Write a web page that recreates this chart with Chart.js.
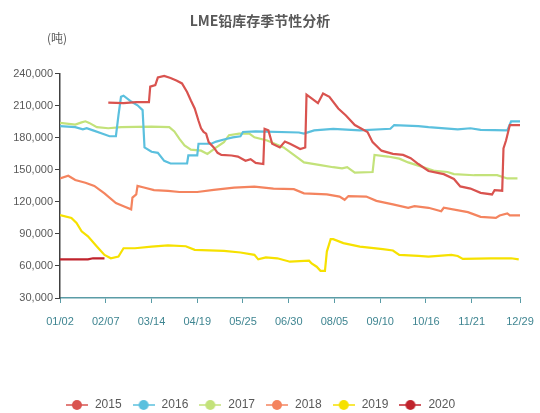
<!DOCTYPE html>
<html lang="zh">

<head>
    <meta charset="UTF-8" />
    <title>LME铅库存季节性分析</title>
    <script src="https://cdn.jsdelivr.net/npm/chart.js"></script>
    <style>
        body {
            margin: 0;
            background: #ffffff;
        }

        #wrap {
            width: 540px;
            height: 413px;
        }
    </style>
</head>

<body>
    <div id="wrap"><canvas id="leadChart"></canvas></div>

    <script>
        // x = days after 01/02, y = tonnes
        const tickLabels = ['01/02', '02/07', '03/14', '04/19', '05/25', '06/30', '08/05', '09/10', '10/16', '11/21', '12/29'];
        const tickDays = [0, 36, 72, 108, 144, 180, 216, 252, 288, 324, 362];

        const days2015 = [38, 50, 60, 70, 71, 75, 77, 82, 87, 92, 96, 100, 103, 106, 109, 111, 113, 115, 117, 121, 124, 127, 135, 140, 146, 150, 154, 160, 161, 164, 167, 173, 177, 181, 186, 189, 193, 194, 198, 203, 207, 212, 219, 225, 232, 242, 246, 253, 262, 270, 276, 282, 290, 302, 310, 315, 323, 331, 340, 342, 348, 349, 351, 354, 362];
        const stock2015 = [213000, 212500, 213500, 213500, 228000, 229500, 236500, 238000, 236000, 233500, 231000, 223000, 215000, 207500, 196000, 189000, 185500, 184000, 176000, 171000, 166000, 164000, 163500, 162500, 158500, 160000, 156500, 155500, 188500, 187000, 174500, 171000, 176500, 174500, 171500, 169500, 171000, 220500, 217000, 212500, 221500, 218500, 207500, 201000, 192000, 185500, 176000, 168000, 165000, 164000, 161000, 155500, 149000, 146000, 141500, 134500, 132500, 128500, 127000, 131000, 130500, 170000, 177500, 192000, 192000];

        const days2016 = [0, 12, 18, 21, 26, 33, 39, 44, 46, 48, 50, 56, 61, 65, 66.5, 72, 77, 82, 87, 100, 101, 108, 109, 119, 123, 129, 136, 142, 144, 154, 188, 192, 200, 215, 236, 260, 263, 282, 290, 313, 323, 331, 352, 355, 362];
        const stock2016 = [191000, 190000, 188000, 189000, 187000, 184000, 181500, 181500, 201000, 218500, 219500, 214000, 210500, 206000, 171000, 167000, 166000, 158500, 156000, 156000, 163500, 163500, 174500, 174500, 176500, 178500, 180500, 181500, 185500, 186000, 185000, 184000, 187000, 188500, 187000, 188500, 192000, 191000, 190000, 188000, 189000, 187500, 187000, 195500, 195500];

        const days2017 = [0, 12, 17, 20, 23, 29, 38, 48, 72, 86, 90, 94, 98, 103, 111, 116, 123, 129, 133, 141, 149, 153, 163, 176, 184, 188, 192, 205, 215, 222, 226, 232, 246, 247.5, 258, 267, 274, 282, 295, 305, 310, 326, 344, 352, 360];
        const stock2017 = [194000, 192500, 194500, 195500, 194000, 190000, 189000, 190000, 190500, 190000, 186000, 179000, 173000, 169000, 168000, 165000, 171000, 176000, 182500, 184000, 184000, 180500, 177500, 171000, 164000, 160500, 157000, 154500, 152500, 151500, 152500, 147500, 148000, 164000, 162500, 160500, 157000, 154000, 149000, 148000, 146000, 145000, 145000, 142000, 142000];

        const days2018 = [0, 6.5, 12, 20, 27, 35, 44, 51, 56, 57, 60, 61, 66, 74, 85, 94, 108, 121, 137, 153, 168, 184, 192, 210, 220, 224, 227, 241, 249, 262, 274, 279, 290, 300, 302, 321, 331, 343, 346, 352, 354, 362];
        const stock2018 = [142000, 144500, 140500, 138000, 135000, 128000, 119000, 115500, 113000, 124000, 127000, 135000, 133500, 131000, 130300, 129300, 129300, 131200, 133400, 134300, 132400, 131900, 128000, 127100, 125000, 122000, 125500, 125000, 121000, 117700, 114500, 116100, 114500, 111300, 114500, 110400, 106000, 105000, 107300, 109200, 107300, 107300];

        const days2019 = [0, 9, 13, 17, 22, 29, 35, 40, 46, 50, 59, 72, 85, 99, 106, 129, 142, 153, 156, 162, 171, 181, 196, 198, 202, 205, 208.5, 210, 213, 215, 223, 236, 254, 262, 267, 282, 290, 308, 313, 317, 339, 355, 361];
        const stock2019 = [107600, 105000, 100300, 92400, 87700, 78200, 70400, 67200, 68800, 76600, 76600, 78200, 79200, 78500, 75100, 74100, 72600, 70400, 66200, 68100, 67200, 64000, 65000, 62400, 59300, 55500, 55500, 73500, 85100, 85100, 81400, 78200, 75700, 74500, 70400, 69400, 68800, 70400, 69400, 66600, 67200, 67200, 66200];

        const days2020 = [0, 22, 26, 35];
        const stock2020 = [66200, 66200, 67200, 67200];

        const years = ['2015', '2016', '2017', '2018', '2019', '2020'];
        const colors = ['#d9534f', '#5bc0de', '#c3e27a', '#f4845f', '#f6e100', '#c0232c'];
        const allDays = [days2015, days2016, days2017, days2018, days2019, days2020];
        const allStock = [stock2015, stock2016, stock2017, stock2018, stock2019, stock2020];

        Chart.defaults.font.family = "'Liberation Sans', 'Noto Sans CJK SC', sans-serif";
        Chart.defaults.color = '#595959';

        function makeMarker(color) {
            const c = document.createElement('canvas');
            c.width = 22;
            c.height = 12;
            const g = c.getContext('2d');
            g.strokeStyle = color;
            g.lineWidth = 1.5;
            g.beginPath();
            g.moveTo(0, 6);
            g.lineTo(22, 6);
            g.stroke();
            g.fillStyle = color;
            g.beginPath();
            g.arc(11, 6, 5, 0, Math.PI * 2);
            g.fill();
            return c;
        }

        const datasets = years.map((y, i) => ({
            label: y,
            data: allDays[i].map((d, j) => ({ x: d, y: allStock[i][j] })),
            borderColor: colors[i],
            backgroundColor: colors[i],
            borderWidth: 2.2,
            pointRadius: 0,
            fill: false,
            tension: 0
        }));

        const unitLabel = {
            id: 'unitLabel',
            afterDraw(chart) {
                const ctx = chart.ctx;
                ctx.save();
                ctx.font = "12px 'Noto Sans CJK SC', sans-serif";
                ctx.fillStyle = '#595959';
                ctx.textAlign = 'left';
                ctx.textBaseline = 'middle';
                ctx.fillText('(吨)', 47, 38);
                ctx.restore();
            }
        };

        new Chart(document.getElementById('leadChart'), {
            type: 'line',
            data: { datasets: datasets },
            plugins: [unitLabel],
            options: {
                responsive: true,
                maintainAspectRatio: false,
                animation: false,
                layout: { padding: { left: 0, right: 20, top: 0, bottom: -8 } },
                plugins: {
                    title: {
                        display: true,
                        text: 'LME铅库存季节性分析',
                        color: '#595959',
                        font: { size: 14, weight: 'bold', family: "'Noto Sans CJK SC', sans-serif" },
                        padding: { top: 12, bottom: 45 }
                    },
                    legend: {
                        position: 'bottom',
                        labels: {
                            usePointStyle: true,
                            pointStyleWidth: 24,
                            padding: 10,
                            color: '#595959',
                            font: { size: 12 },
                            generateLabels: chart => chart.data.datasets.map((ds, i) => ({
                                text: ds.label,
                                pointStyle: makeMarker(ds.borderColor),
                                fillStyle: ds.borderColor,
                                strokeStyle: ds.borderColor,
                                lineWidth: 0,
                                hidden: false,
                                fontColor: '#595959',
                                datasetIndex: i
                            }))
                        }
                    },
                    tooltip: { enabled: false }
                },
                scales: {
                    x: {
                        type: 'linear',
                        min: 0,
                        max: 362,
                        afterBuildTicks: scale => {
                            scale.ticks = tickDays.map(v => ({ value: v }));
                        },
                        afterFit: scale => {
                            scale.height = 91;
                            scale.paddingRight = 0;
                        },
                        ticks: {
                            autoSkip: false,
                            maxRotation: 0,
                            color: '#3f8591',
                            padding: 12,
                            font: { size: 11 },
                            callback: (v, i) => tickLabels[i]
                        },
                        border: { color: '#5a9ca6', width: 1.5 },
                        grid: { drawOnChartArea: false, tickLength: 5, color: '#5a9ca6' }
                    },
                    y: {
                        min: 30000,
                        max: 240000,
                        afterFit: scale => { scale.width = 60; },
                        ticks: {
                            stepSize: 30000,
                            padding: 2,
                            font: { size: 11 },
                            color: '#595959',
                            callback: v => v.toLocaleString('en-US')
                        },
                        border: { color: '#404040', width: 1.5 },
                        grid: { drawOnChartArea: false, tickLength: 5, color: '#404040' }
                    }
                }
            }
        });
    </script>
</body>

</html>
